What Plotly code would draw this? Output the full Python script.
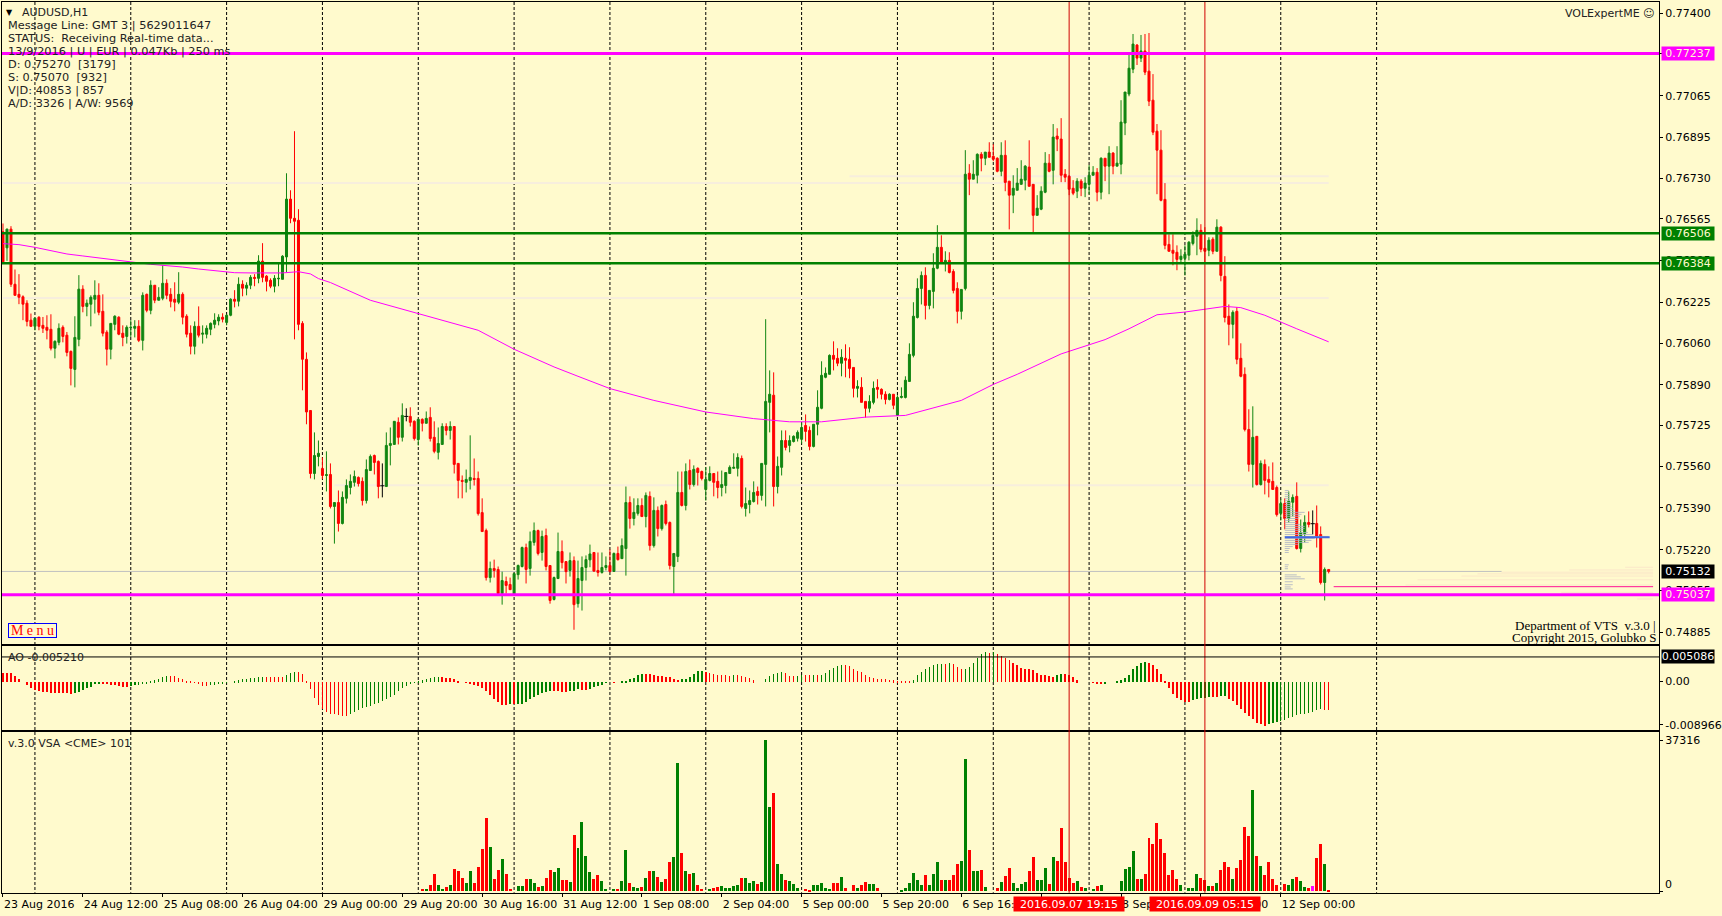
import plotly.graph_objects as go

# ---- values (prices in points, 1 point = 0.00001) ----
time_ticks = [0, 20, 40, 60, 80, 100, 120, 140, 160, 180, 200, 220, 240, 260, 280, 300, 320]
time_labels = ["23 Aug 2016", "24 Aug 12:00", "25 Aug 08:00", "26 Aug 04:00", "29 Aug 00:00", "29 Aug 20:00",
               "30 Aug 16:00", "31 Aug 12:00", "1 Sep 08:00", "2 Sep 04:00", "5 Sep 00:00", "5 Sep 20:00",
               "6 Sep 16:00", "7 Sep 12:00", "8 Sep 08:00", "9 Sep 04:00", "12 Sep 00:00"]
separators = [8 + 24 * k for k in range(15)]
event_bars = [267, 301]
event_labels = ["2016.09.07 19:15", "2016.09.09 05:15"]
price_ticks = [0.77400, 0.77235, 0.77065, 0.76895, 0.76730, 0.76565, 0.76395, 0.76225, 0.76060,
               0.75890, 0.75725, 0.75560, 0.75390, 0.75220, 0.75055, 0.74885]

opens = [76512,76447,76523,76299,76258,76248,76222,76153,76128,76165,
76132,76124,76116,76039,76063,76124,76092,76026,75953,76075,
76279,76209,76218,76238,76254,76189,76104,76035,76136,76165,
76100,76087,76123,76120,76128,76071,76258,76193,76295,76234,
76242,76303,76258,76238,76226,76258,76169,76100,76047,76128,
76096,76096,76116,76136,76150,76165,76144,76173,76238,76230,
76299,76283,76295,76327,76323,76393,76332,76315,76291,76321,
76319,76410,76645,76567,76559,76140,75994,75786,75530,75599,
75550,75522,75526,75396,75412,75327,75429,75473,75494,75514,
75498,75420,75542,75603,75579,75480,75477,75644,75648,75738,
75677,75762,75762,75742,75668,75750,75734,75758,75677,75616,
75648,75721,75705,75721,75571,75502,75494,75502,75510,75510,
75371,75298,75107,75144,75140,75042,75091,75079,75038,75119,
75152,75229,75144,75250,75298,75209,75278,75156,75018,75103,
75213,75172,75136,75176,75001,75095,75148,75179,75209,75136,
75128,75148,75156,75132,75205,75184,75225,75412,75347,75368,
75400,75355,75437,75237,75380,75306,75404,75331,75152,75193,
75453,75400,75542,75485,75551,75538,75465,75502,75530,75498,
75473,75481,75530,75551,75551,75591,75388,75404,75416,75457,
75441,75567,75819,75848,75477,75555,75664,75644,75660,75673,
75669,75725,75705,75640,75730,75795,75921,75933,76010,75998,
75978,75998,75994,75961,75876,75880,75823,75795,75819,75880,
75872,75852,75831,75852,75766,75839,75839,75904,76010,76164,
76282,76335,76213,76270,76364,76449,76388,76396,76351,76282,
76189,76282,76750,76726,76742,76827,76811,76836,76819,76811,
76758,76823,76718,76661,76681,76705,76722,76775,76705,76579,
76604,76673,76791,76762,76901,76889,76746,76738,76689,76677,
76718,76689,76705,76742,76754,76673,76811,76779,76832,76779,
76787,76954,77072,77173,77271,77218,77247,77165,77047,76921,
76844,76644,76461,76437,76429,76400,76404,76417,76465,76494,
76518,76445,76437,76482,76433,76531,76331,76169,76136,76189,
75998,75933,75709,75567,75681,75485,75567,75506,75498,75473,
75368,75408,75347,75413,75437,75225,75286,75331,75326,75327,75282,75087,75140]

highs = [76546,76525,76535,76359,76340,76254,76234,76180,76161,76169,
76166,76173,76177,76071,76140,76132,76105,76030,76169,76336,
76295,76237,76254,76315,76303,76258,76112,76140,76173,76169,
76132,76132,76153,76153,76153,76266,76261,76315,76295,76287,
76376,76319,76283,76307,76348,76266,76177,76132,76148,76209,
76132,76132,76144,76181,76177,76181,76177,76242,76275,76327,
76315,76307,76336,76340,76417,76466,76336,76323,76336,76383,
76417,76750,76681,76921,76604,76149,76022,75786,75697,75664,
75595,75620,75571,75412,75461,75457,75506,75526,75542,75518,
75514,75587,75607,75607,75583,75571,75697,75717,75742,75758,
75815,75795,75799,75746,75750,75754,75782,75799,75742,75717,
75734,75734,75742,75721,75571,75522,75546,75685,75591,75538,
75429,75306,75172,75180,75152,75131,75111,75107,75127,75160,
75233,75245,75294,75331,75302,75298,75306,75156,75111,75290,
75258,75172,75209,75193,75176,75193,75197,75241,75209,75209,
75209,75193,75221,75209,75233,75266,75477,75437,75429,75429,
75429,75453,75457,75433,75396,75404,75420,75335,75205,75538,
75538,75571,75587,75563,75555,75542,75555,75559,75530,75538,
75542,75534,75563,75612,75612,75603,75473,75461,75498,75477,
75571,76157,75949,75941,75599,75705,75705,75685,75685,75705,
75738,75770,75721,75730,75868,75986,75961,76014,76067,76039,
76035,76055,76043,75961,75909,75921,75823,75848,75904,75913,
75876,75864,75856,75852,75848,75880,75925,76059,76226,76323,
76351,76368,76274,76425,76539,76498,76433,76429,76360,76307,
76278,76844,76787,76803,76831,76836,76836,76876,76868,76815,
76876,76884,76718,76742,76771,76803,76783,76884,76705,76661,
76697,76836,76828,76950,76933,76974,76767,76742,76722,76730,
76726,76734,76783,76779,76771,76815,76811,76860,76836,76860,
77047,77080,77234,77316,77275,77312,77316,77320,77153,76950,
76925,76710,76502,76502,76457,76441,76457,76474,76514,76567,
76543,76531,76490,76490,76563,76535,76413,76217,76193,76206,
76059,75961,75791,75803,75681,75583,75587,75559,75575,75481,
75425,75429,75457,75445,75494,75343,75360,75376,75380,75400,75315,75148,75140]

lows = [76386,76394,76288,76254,76218,76153,76128,76128,76112,76112,
76101,76075,76030,75998,76051,76063,76006,75888,75880,76047,
76185,76169,76128,76180,76173,76087,75969,75994,76112,76092,
76047,76058,76085,76083,76064,76030,76185,76177,76222,76234,
76234,76238,76205,76189,76218,76136,76083,76014,76014,76083,
76058,76079,76092,76120,76132,76144,76132,76169,76205,76209,
76250,76254,76279,76291,76303,76307,76270,76283,76266,76291,
76319,76348,76547,76075,76112,75868,75730,75510,75506,75559,
75507,75457,75388,75245,75294,75323,75408,75445,75477,75477,
75400,75408,75542,75526,75429,75433,75477,75563,75648,75648,
75660,75742,75721,75664,75644,75701,75734,75660,75612,75587,
75648,75685,75668,75530,75429,75429,75453,75465,75481,75359,
75294,75095,75087,75107,75034,74997,75042,75058,75034,75099,
75148,75083,75115,75237,75197,75176,75136,75001,75014,75103,
75144,75083,75111,74895,74985,74973,75095,75149,75133,75111,
75123,75136,75128,75132,75176,75184,75115,75306,75319,75359,
75353,75311,75217,75229,75274,75298,75319,75140,75034,75170,
75396,75380,75465,75477,75481,75502,75420,75498,75437,75429,
75437,75449,75530,75551,75518,75388,75355,75368,75412,75404,
75420,75396,75697,75396,75449,75522,75624,75616,75656,75660,
75652,75660,75624,75636,75685,75791,75917,75933,75949,75966,
75925,75921,75917,75839,75839,75819,75757,75778,75811,75835,
75831,75811,75827,75791,75766,75835,75835,75904,76002,76160,
76217,76156,76197,76201,76360,76388,76351,76343,76262,76140,
76156,76274,76661,76726,76709,76758,76783,76815,76799,76754,
76738,76677,76522,76588,76681,76705,76681,76697,76506,76579,
76600,76669,76754,76705,76840,76714,76714,76661,76661,76649,
76657,76653,76665,76742,76636,76644,76718,76665,76746,76779,
76746,76905,77063,77157,77190,77202,77149,77023,76905,76665,
76636,76441,76433,76376,76356,76388,76335,76396,76457,76417,
76429,76384,76413,76421,76433,76311,76144,76051,76079,75974,
75921,75701,75538,75473,75481,75481,75445,75433,75465,75355,
75339,75303,75331,75356,75221,75209,75250,75311,75282,75229,75079,75014,75124]

closes = [76390,76523,76299,76254,76246,76218,76148,76128,76161,76128,
76120,76112,76039,76067,76120,76087,76022,75957,76083,76279,
76209,76222,76246,76254,76185,76100,76035,76140,76169,76096,
76083,76124,76124,76128,76071,76254,76193,76295,76234,76246,
76303,76254,76230,76226,76258,76165,76096,76047,76128,76092,
76100,76120,76140,76153,76165,76157,76173,76238,76230,76299,
76283,76295,76327,76323,76393,76327,76311,76291,76323,76323,
76413,76645,76567,76555,76136,75994,75780,75530,75603,75612,
75522,75525,75396,75412,75327,75433,75481,75498,75518,75489,
75420,75546,75599,75575,75477,75480,75644,75652,75742,75677,
75766,75762,75738,75672,75750,75734,75754,75672,75620,75652,
75721,75705,75721,75567,75502,75498,75506,75514,75506,75367,
75294,75107,75144,75136,75042,75095,75075,75058,75123,75156,
75229,75140,75254,75298,75205,75274,75152,75014,75107,75213,
75168,75131,75176,74997,75103,75148,75180,75203,75133,75128,
75148,75156,75132,75205,75180,75237,75412,75347,75372,75400,
75355,75441,75237,75380,75306,75400,75327,75156,75205,75453,
75400,75538,75485,75547,75534,75510,75506,75530,75494,75473,
75485,75534,75555,75555,75595,75396,75408,75420,75453,75441,
75571,75823,75852,75477,75559,75664,75636,75664,75681,75697,
75717,75701,75640,75730,75799,75929,75937,76010,75994,75978,
76002,75990,75957,75876,75884,75819,75795,75823,75876,75872,
75852,75831,75852,75807,75839,75843,75909,76014,76169,76282,
76335,76213,76274,76364,76449,76388,76396,76347,76274,76189,
76278,76746,76726,76746,76827,76811,76836,76815,76807,76758,
76823,76713,76661,76689,76710,76726,76779,76697,76579,76608,
76677,76791,76758,76897,76889,76742,76734,76685,76669,76718,
76689,76710,76742,76754,76673,76811,76779,76832,76779,76791,
76958,77080,77177,77275,77218,77247,77161,77043,76917,76844,
76640,76457,76433,76425,76400,76413,76421,76470,76498,76518,
76441,76433,76478,76433,76531,76335,76164,76136,76185,75994,
75925,75709,75567,75677,75485,75571,75502,75494,75465,75363,
75408,75347,75417,75433,75225,75290,75331,75323,75326,75274,75087,75140,75132]

ma_bars = [0,4,8,12,16,20,24,28,32,37,41,45,49,53,58,62,66,70,74,77,79,82,92,104,110,119,128,138,144,
           152,163,176,188,197,205,216,226,233,240,248,254,265,276,282,289,296,306,310,316,324,331,332]
ma_values = [76464,76460,76449,76437,76422,76414,76407,76397,76390,76380,76375,76369,76361,76353,76346,76345,
             76345,76345,76350,76341,76322,76306,76234,76180,76153,76112,76035,75963,75925,75875,75827,75780,
             75753,75740,75740,75759,75766,75797,75827,75892,75933,76016,76074,76118,76175,76186,76209,76204,
             76173,76118,76074,76065]

level_magenta = [77237, 75037]
level_green = [76506, 76384]
last_price = 75132
level_sell = 75070
level_poc = 75271
faint_levels = [(76738, 212), (76710, 0), (76243, 0), (75482, 83)]

profile_prices = [75461,75453,75445,75437,75429,75421,75412,75404,75396,75388,75380,75372,75364,75356,75347,75339,
                  75331,75323,75315,75307,75299,75290,75282,75274,75266,75258,75250,75242,75233,75225,75217,75209,
                  75159,75151,75143,75118,75110,75102,75090,75078,75069,75061]
profile_sizes = [1,1,1.2,1.25,1.25,1.3,1.5,1.5,1.7,2,2.5,5,4.2,3.8,3.3,3,2.9,3.8,5,5,4.6,5.8,7,11,7.5,6.7,6,3.3,2,
                 1.25,1,1,1,.8,.8,3,4,5,2,2,1.5,2]
profile_first_bar = 321
right_prices = [75149,75138,75129,75122,75113,75098,75077,75047,75034,75020]
right_sizes = [7,21,38,44,48,59,62,23,13,4]
right_last_bar = 413.25

ao_points = [179,179,179,124,55,0,-55,-124,-173,-193,
-207,-207,-221,-228,-228,-228,-228,-248,-228,-207,
-166,-124,-104,-41,-21,-28,-35,-55,-69,-90,
-104,-104,-83,-69,-55,-41,-28,14,35,69,
104,117,117,117,83,55,28,14,-14,-48,
-83,-83,-69,-62,-48,-35,-14,0,14,35,
55,69,76,90,104,110,110,110,110,104,
97,138,179,207,207,173,28,-152,-324,-476,
-566,-614,-656,-669,-690,-704,-704,-669,-614,-580,
-545,-511,-497,-462,-428,-393,-359,-311,-276,-186,
-117,-83,-28,-7,7,35,62,83,104,110,
97,90,83,69,28,0,-14,-48,-69,-90,
-124,-186,-262,-345,-414,-469,-469,-462,-462,-455,
-449,-414,-359,-317,-262,-235,-207,-193,-193,-193,
-207,-207,-193,-179,-152,-166,-166,-138,-110,-83,
-55,-14,0,-7,0,14,21,55,83,138,
166,166,166,138,124,117,104,97,55,48,
62,69,104,173,221,228,207,179,166,152,
138,138,131,138,138,131,104,83,35,0,
0,55,117,173,193,207,179,131,117,124,
152,138,138,152,138,152,186,242,290,324,
345,345,324,276,235,207,152,104,83,69,
55,55,48,41,14,7,7,7,41,152,
207,262,311,345,366,380,380,393,380,311,
262,276,311,400,504,587,621,607,621,580,
531,497,449,393,345,297,262,262,242,193,
152,138,124,104,138,173,173,152,104,35,
0,0,0,-14,-28,-41,-21,0,0,7,
35,83,152,262,331,393,414,400,345,262,
173,14,-124,-248,-324,-380,-414,-414,-380,-345,
-331,-324,-311,-311,-311,-297,-290,-345,-400,-483,
-566,-635,-704,-759,-842,-876,-904,-876,-842,-828,
-807,-787,-752,-725,-690,-669,-656,-635,-614,-587,-566,-573,-580]
ao_level = 0.005086
ao_low = -0.008966

vsa_first_bar = 105
vsa_volume = [659,659,1648,4367,1648,659,1154,1483,5603,5109,
3214,2142,5109,2142,6098,10382,18046,10877,3131,5356,
7910,4367,659,0,1236,1236,2966,3131,1978,989,
1401,3214,5356,4697,5686,2719,2719,2390,13843,10630,
17222,8652,4697,3131,3955,2637,494,0,659,659,
2472,10135,1978,989,824,989,3214,4944,4944,3461,
2225,2966,7169,8405,31642,9394,4944,4202,4450,1483,
494,0,494,742,989,1236,742,742,1236,1483,
3214,3214,1978,2472,1730,2225,37316,20765,24226,6674,
4202,2719,2472,1730,742,0,494,330,1483,1483,
1978,742,494,1978,1978,3461,742,0,1483,742,
1483,2225,1730,1730,742,0,0,0,0,0,
247,742,1978,4450,2719,1483,3955,1483,4202,7169,
2719,2719,2719,3955,6674,7416,32630,10135,4944,4944,
5191,989,0,0,742,2225,3708,5686,1978,742,
1730,2225,4944,8405,2719,2719,5686,1730,8405,7416,
15574,7169,3214,1978,2472,989,742,0,494,1236,
1483,0,0,0,0,2472,5438,5933,9888,2966,
2966,4202,13102,11618,16810,12854,9394,3955,5191,2966,
1483,0,742,742,4202,3214,2719,1236,1236,1978,
5191,7169,5933,2966,5686,7663,15821,13596,24967,8652,
6180,3955,7169,2966,1483,0,1730,1483,2966,3461,
2472,989,742,1236,8158,11618,6674,124]
vsa_special_bar = 328
vsa_max = 37316

info_lines = ["Message Line: GMT 3 | 5629011647", "STATUS:\u00a0 Receiving Real-time data...",
              "13/9/2016 | U | EUR | 0.047Kb | 250 ms", "D: 0.75270\u00a0 [3179]", "S: 0.75070\u00a0 [932]",
              "V|D: 40853 | 857", "A/D: 3326 | A/W: 9569"]

# ---- page geometry and style ----
W, H = 1722, 916
KX, KY = 1.0035, 1.003
BG = "#FFFACD"
GREEN = "#118511"
VGREEN = "#008000"
RED = "#FF0000"
MAGENTA = "#FF00FF"
AXFONT = dict(family="DejaVu Sans", size=11, color="#000000")
TXFONT = dict(family="DejaVu Sans", size=11, color="#222222")
INFOFONT = dict(family="DejaVu Sans", size=11.3, color="#222222")


def px(x):
    return x * KX / W


def py(y):
    return 1 - y * KY / H


n = len(closes)
bars = list(range(n))
P = lambda v: v / 1e5
doji = [i for i in bars if opens[i] == closes[i]]
real = [i for i in bars if opens[i] != closes[i]]

fig = go.Figure()

fig.add_trace(go.Candlestick(
    x=real, open=[P(opens[i]) for i in real], high=[P(highs[i]) for i in real],
    low=[P(lows[i]) for i in real], close=[P(closes[i]) for i in real],
    increasing=dict(line=dict(color=GREEN, width=1), fillcolor=GREEN),
    decreasing=dict(line=dict(color=RED, width=1), fillcolor=RED),
    whiskerwidth=0, showlegend=False, hoverinfo="skip", xaxis="x", yaxis="y"))
fig.add_trace(go.Scatter(
    x=doji, y=[P(closes[i]) for i in doji], mode="markers",
    marker=dict(symbol="line-ew", size=3, line=dict(color="#000000", width=1), color="#000000"),
    error_y=dict(type="data", symmetric=False, array=[P(highs[i] - closes[i]) for i in doji],
                 arrayminus=[P(closes[i] - lows[i]) for i in doji], width=0, thickness=1, color="#000000"),
    showlegend=False, hoverinfo="skip", xaxis="x", yaxis="y"))
fig.add_trace(go.Scatter(x=ma_bars, y=[P(v) for v in ma_values], mode="lines",
                         line=dict(color=MAGENTA, width=1), showlegend=False, hoverinfo="skip",
                         xaxis="x", yaxis="y"))

seg_x, seg_y = [], []
for p, s in zip(profile_prices, profile_sizes):
    seg_x += [profile_first_bar, profile_first_bar + s, None]
    seg_y += [P(p), P(p), None]
fig.add_trace(go.Scatter(x=seg_x, y=seg_y, mode="lines", line=dict(color="#A8AFC4", width=0.8),
                         showlegend=False, hoverinfo="skip", xaxis="x", yaxis="y"))
seg_x, seg_y = [], []
for p, s in zip(right_prices, right_sizes):
    seg_x += [right_last_bar - s, right_last_bar, None]
    seg_y += [P(p), P(p), None]
fig.add_trace(go.Scatter(x=seg_x, y=seg_y, mode="lines", line=dict(color="#FBE7C9", width=1),
                         showlegend=False, hoverinfo="skip", xaxis="x", yaxis="y"))

ao_vals = [v / 1e5 for v in ao_points]
ao_colors = [VGREEN if i and ao_points[i] > ao_points[i - 1] else RED for i in bars]
fig.add_trace(go.Bar(x=bars, y=ao_vals, marker=dict(color=ao_colors, line=dict(width=0)), width=0.12,
                     showlegend=False, hoverinfo="skip", xaxis="x2", yaxis="y2"))

vsa_x = list(range(vsa_first_bar, vsa_first_bar + len(vsa_volume)))
vsa_colors = [MAGENTA if i == vsa_special_bar else (VGREEN if closes[i] >= opens[i] else RED) for i in vsa_x]
fig.add_trace(go.Bar(x=vsa_x, y=vsa_volume, marker=dict(color=vsa_colors, line=dict(width=0)), width=0.75,
                     showlegend=False, hoverinfo="skip", xaxis="x3", yaxis="y3"))

shapes = []
for b in separators:
    shapes.append(dict(type="line", xref="x", yref="paper", x0=b, x1=b, y0=py(2), y1=py(892),
                       line=dict(color="#000000", width=1, dash="3px,2px"), layer="below"))
for b in event_bars:
    shapes.append(dict(type="line", xref="x", yref="paper", x0=b, x1=b, y0=py(2), y1=py(892),
                       line=dict(color="#D00000", width=1), layer="above"))
for lv, first in faint_levels:
    shapes.append(dict(type="line", xref="x", yref="y", x0=first, x1=332, y0=P(lv), y1=P(lv),
                       line=dict(color="#F7EEDD", width=2), layer="below"))
shapes.append(dict(type="line", xref="x domain", yref="y", x0=0, x1=0.905, y0=P(last_price), y1=P(last_price),
                   line=dict(color="#C0C0C0", width=1), layer="below"))
for lv in level_green:
    shapes.append(dict(type="line", xref="x domain", yref="y", x0=0, x1=1, y0=P(lv), y1=P(lv),
                       line=dict(color="#008000", width=2.5), layer="above"))
for lv in level_magenta:
    shapes.append(dict(type="line", xref="x domain", yref="y", x0=0, x1=1, y0=P(lv), y1=P(lv),
                       line=dict(color=MAGENTA, width=3), layer="above"))
shapes.append(dict(type="line", xref="x", yref="y", x0=333.25, x1=413.25, y0=P(level_sell), y1=P(level_sell),
                   line=dict(color="#FF1493", width=1), layer="above"))
shapes.append(dict(type="line", xref="x", yref="y", x0=321, x1=332.25, y0=P(level_poc), y1=P(level_poc),
                   line=dict(color="#4169E1", width=2), layer="above"))
shapes.append(dict(type="line", xref="x2 domain", yref="y2", x0=0, x1=1, y0=ao_level, y1=ao_level,
                   line=dict(color="#000000", width=1), layer="above"))

ann = []


def note(text, x, y, font=TXFONT, anchor="left"):
    ann.append(dict(text=text, xref="paper", yref="paper", x=px(x), y=py(y), xanchor=anchor, yanchor="middle",
                    showarrow=False, font=font, borderpad=0))


def price_box(text, yval, yref, bg, fg="#FFFACD", w=52, h=13):
    ann.append(dict(text=text, xref="paper", yref=yref, x=px(1664), y=yval, xanchor="left", yanchor="middle",
                    showarrow=False, bgcolor=bg, width=w, height=h, align="center", valign="middle", borderpad=0,
                    font=dict(family="DejaVu Sans", size=11, color=fg)))


note("\u25bc", 5, 12, dict(family="DejaVu Sans", size=8, color="#000000"))
note("AUDUSD,H1", 21, 12.6)
for k, line in enumerate(info_lines):
    note(line, 7.4, 25.5 + k * 13, INFOFONT)
note("VOLExpertME \u263a", 1659, 13, anchor="right")
note("AO -0.005210", 7, 656.7)
note("v.3.0 VSA &lt;CME&gt; 101", 7, 742.7)
note("Department of VTS\u00a0 v.3.0 |", 1660, 625, dict(family="Liberation Serif", size=13, color="#000000"), "right")
note("Copyright 2015, Golubko S", 1660, 637, dict(family="Liberation Serif", size=13, color="#000000"), "right")
ann.append(dict(text="M e n u", xref="paper", yref="paper", x=px(33), y=py(630), xanchor="center", yanchor="middle",
                showarrow=False, bgcolor=BG, bordercolor="#0000FF", borderwidth=1, width=47, height=13, borderpad=0,
                font=dict(family="Liberation Serif", size=14, color="#FF0000")))
note("0", 1667, 884, AXFONT)

for v in level_magenta:
    price_box(f"{P(v):.5f}", P(v), "y", MAGENTA)
for v in level_green:
    price_box(f"{P(v):.5f}", P(v), "y", "#008000")
price_box(f"{P(last_price):.5f}", P(last_price), "y", "#000000", "#FFFFFF")
price_box(f"{ao_level:.6f}", ao_level, "y2", "#000000", "#FFFFFF")

for b, lab in zip(event_bars, event_labels):
    ann.append(dict(text=lab, xref="x3", yref="paper", x=b, y=py(903), xanchor="center", yanchor="middle",
                    showarrow=False, bgcolor=RED, width=110, height=14, borderpad=0,
                    font=dict(family="DejaVu Sans", size=11, color="#FFFFFF")))

axis_common = dict(showgrid=False, zeroline=False, showline=True, mirror=True, linecolor="#000000", linewidth=1)
x_range = [-0.25, 414.75]
x_domain = [px(2), px(1662)]

fig.update_layout(
    width=W, height=H, margin=dict(l=0, r=0, t=0, b=0), paper_bgcolor=BG, plot_bgcolor=BG,
    showlegend=False, boxgap=0.5, boxgroupgap=0, boxmode="overlay", bargap=0, barmode="overlay",
    shapes=shapes, annotations=ann,
    xaxis=dict(domain=x_domain, range=x_range, anchor="y", showticklabels=False, ticks="",
               rangeslider=dict(visible=False), **axis_common),
    yaxis=dict(domain=[py(643.5), py(2)], range=[0.74837, 0.77446], side="right", anchor="x", tickmode="array",
               tickvals=price_ticks, ticktext=[f"{v:.5f}" for v in price_ticks], ticks="outside", ticklen=3,
               tickcolor="#000000", tickfont=AXFONT, **axis_common),
    xaxis2=dict(domain=x_domain, range=x_range, anchor="y2", showticklabels=False, ticks="", **axis_common),
    yaxis2=dict(domain=[py(729), py(645)], range=[-0.00994, 0.00745], side="right", anchor="x2", tickmode="array",
                tickvals=[0, ao_low], ticktext=["0.00", f"{ao_low:.6f}"], ticks="outside", ticklen=3,
                tickcolor="#000000", tickfont=AXFONT, **axis_common),
    xaxis3=dict(domain=x_domain, range=x_range, anchor="y3", tickmode="array", tickvals=time_ticks,
                ticktext=time_labels, ticks="outside", ticklen=3, tickcolor="#000000", tickangle=0,
                ticklabelposition="outside right", ticklabelstandoff=1, tickfont=AXFONT, **axis_common),
    yaxis3=dict(domain=[py(892.3), py(731.7)], range=[-320, 39350], side="right", anchor="x3", tickmode="array",
                tickvals=[0, vsa_max], ticktext=["", str(vsa_max)], ticks="outside", ticklen=3,
                tickcolor="#000000", tickfont=AXFONT, **axis_common),
)

fig.write_html("out.html", config=dict(displayModeBar=False),
               post_script="document.body.style.margin='0';document.body.style.overflow='hidden';")
